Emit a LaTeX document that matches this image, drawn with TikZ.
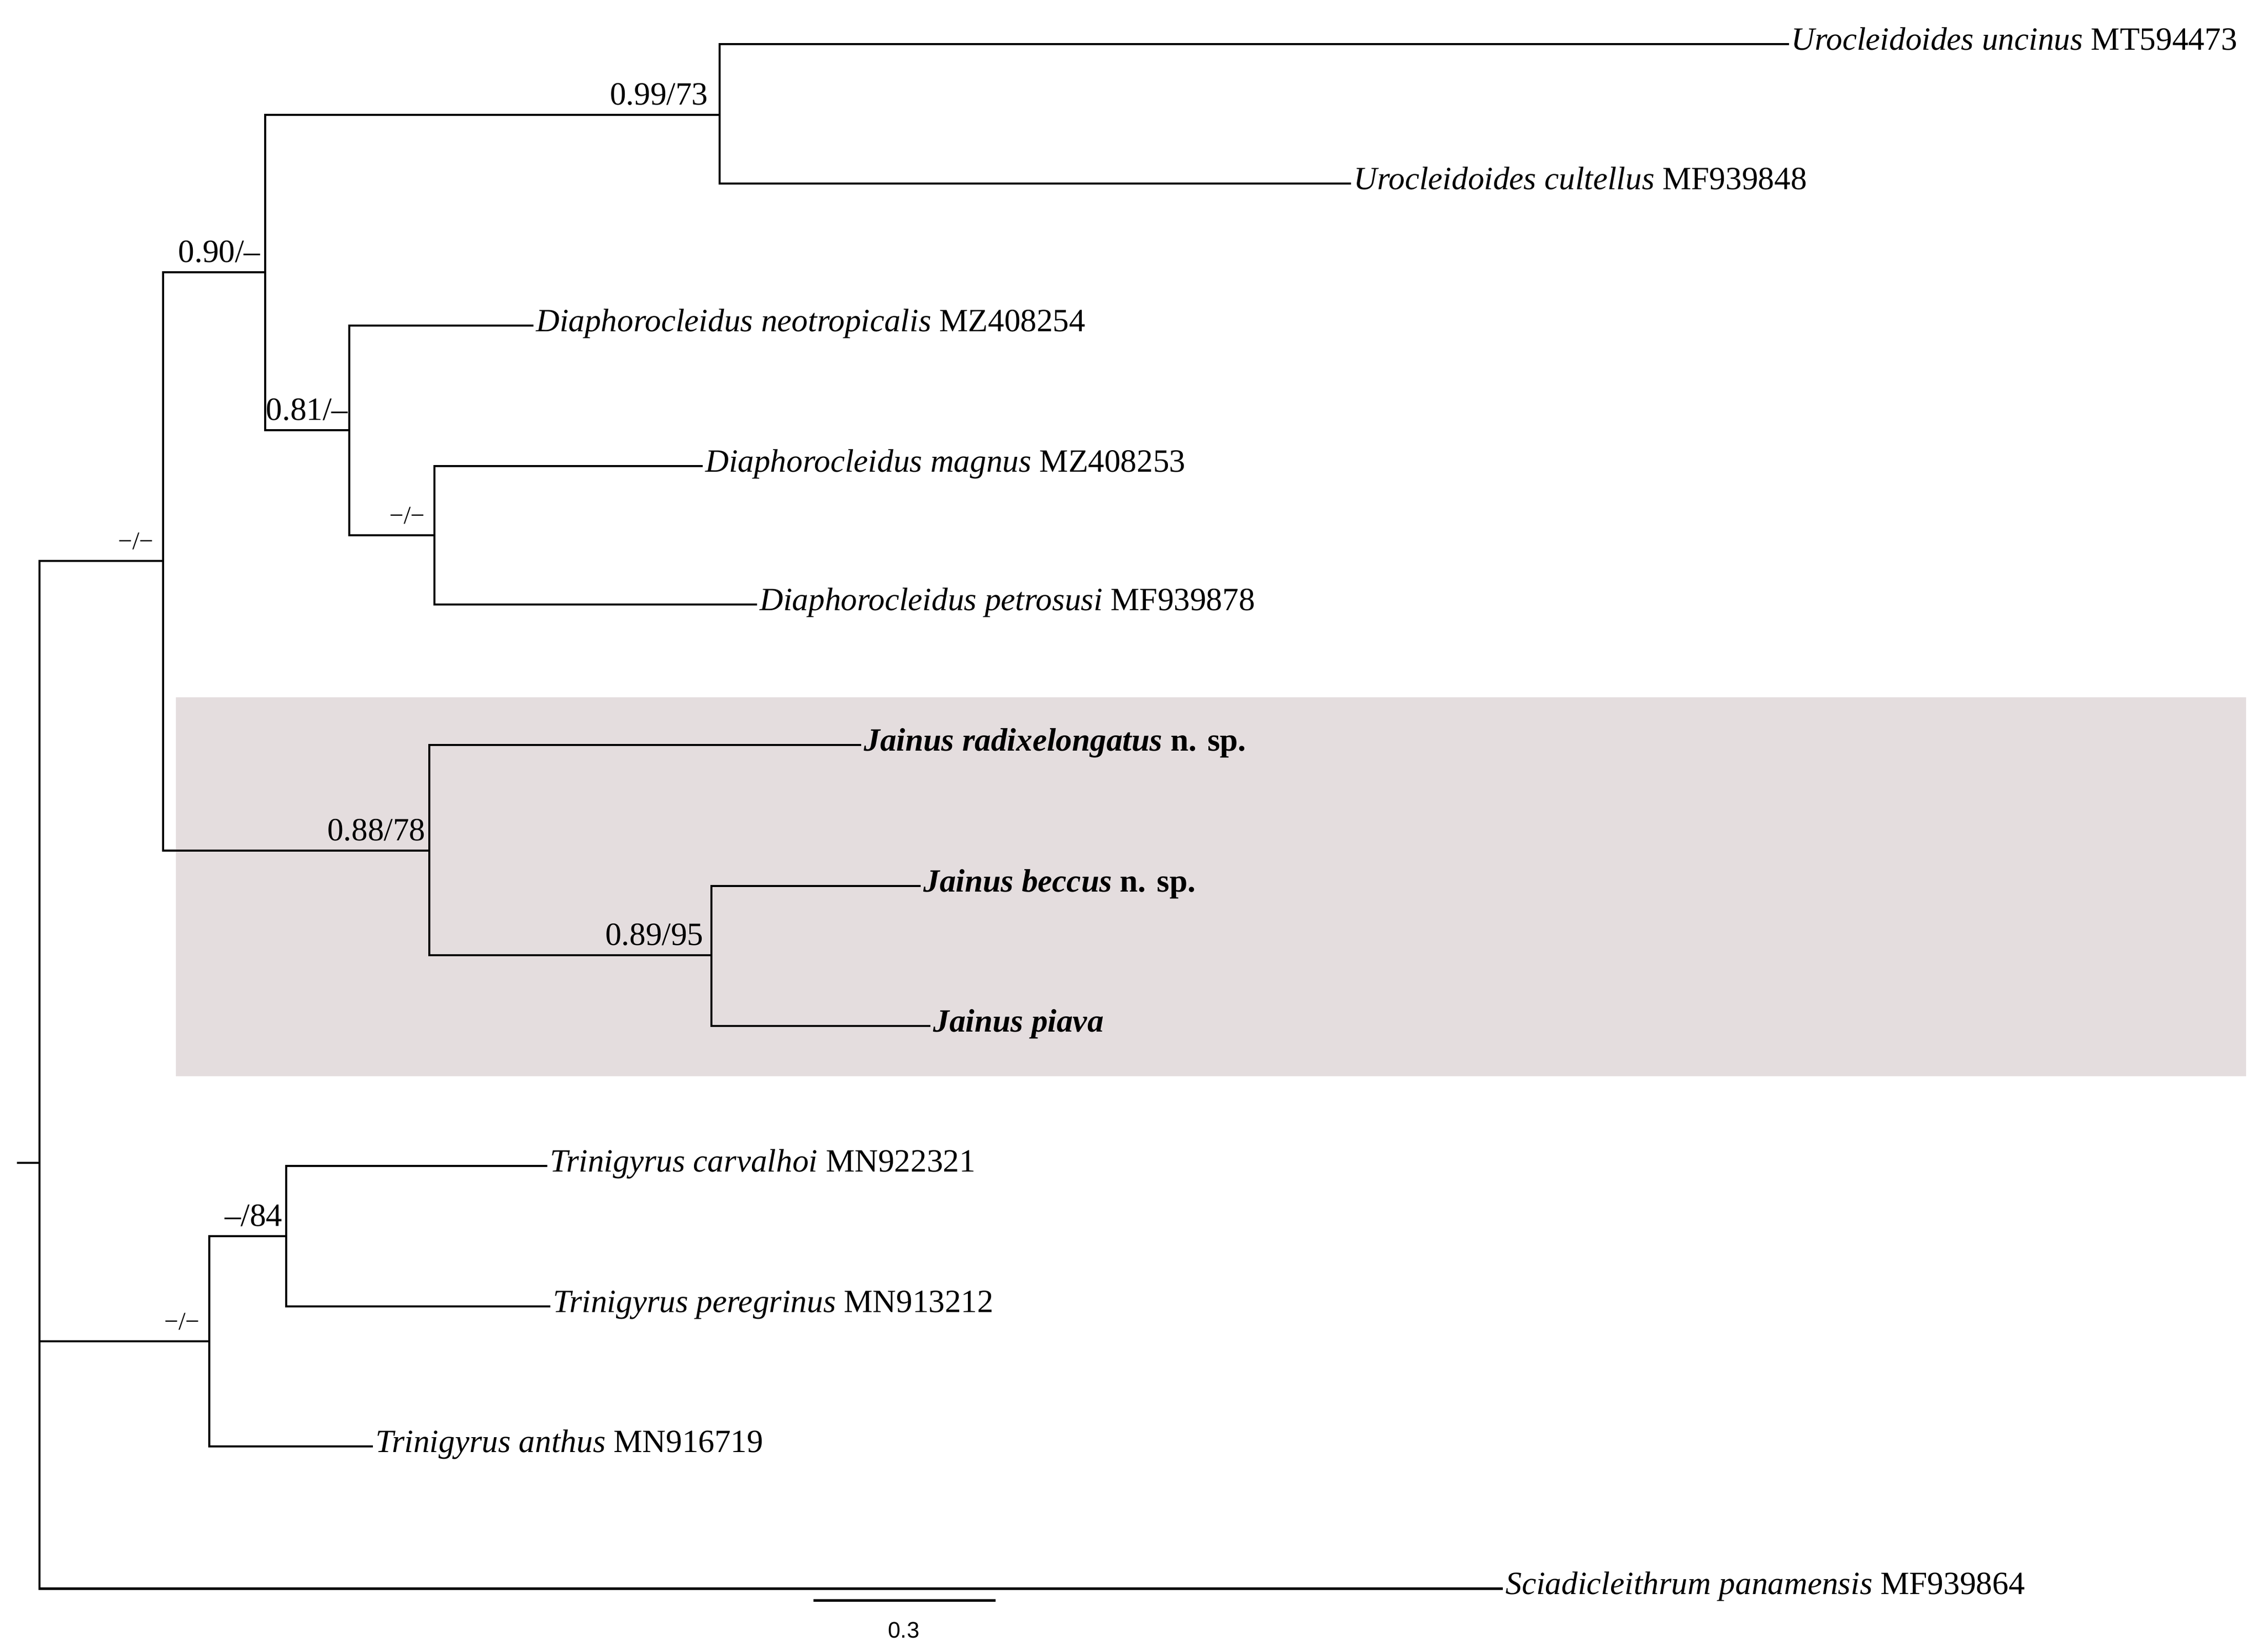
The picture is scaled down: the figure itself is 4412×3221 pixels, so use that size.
\documentclass[tikz,border=0pt]{standalone}
\usepackage{fontspec}
\setmainfont{Liberation Serif}
\newfontfamily\scalefont{Liberation Sans}
\usepackage{tikz}
\usetikzlibrary{positioning}
\usepackage{xcolor}
\definecolor{cladegray}{RGB}{228,221,222}

\begin{document}
\begin{tikzpicture}[x=0.1mm,y=-0.1mm,line width=1.4pt,line cap=rect,
  every node/.style={font=\fontsize{18pt}{21pt}\selectfont},
  taxon/.style={anchor=west,inner sep=0.5mm,text height=0.66em,text depth=0pt},
  supp/.style={anchor=south east,inner xsep=1mm,inner ysep=1.7mm,text depth=0pt},
  suppsmall/.style={supp,inner ysep=2mm,font=\fontsize{14pt}{16pt}\selectfont},
  scalelab/.style={font=\scalefont\fontsize{12.5pt}{15pt}\selectfont}]

  \useasboundingbox (0,0) rectangle (4412,3221);

  % highlighted clade
  \fill[cladegray] (343,1360) rectangle (4379,2099);

  % inner nodes
  \coordinate (root) at (77,2268);
  \coordinate (rootstub) at (35,2268);
  \coordinate (nA) at (318,1094);
  \coordinate (nB) at (517,531);
  \coordinate (nC) at (1403,224);
  \coordinate (nD) at (681,839);
  \coordinate (nE) at (847,1044);
  \coordinate (nF) at (837,1659);
  \coordinate (nG) at (1387,1863);
  \coordinate (nH) at (408,2616);
  \coordinate (nI) at (558,2411);

  % tips
  \node[taxon] (uncinus) at (3485,86) {\textit{Urocleidoides uncinus} MT594473};
  \node[taxon] (cultellus) at (2632,358) {\textit{Urocleidoides cultellus} MF939848};
  \node[taxon] (neotrop) at (1038,635) {\textit{Diaphorocleidus neotropicalis} MZ408254};
  \node[taxon] (magnus) at (1368,909) {\textit{Diaphorocleidus magnus} MZ408253};
  \node[taxon] (petrosusi) at (1474,1179) {\textit{Diaphorocleidus petrosusi} MF939878};
  \node[taxon] (radix) at (1677,1453) {\textbf{\textit{Jainus radixelongatus} n. sp.}};
  \node[taxon] (beccus) at (1793,1728) {\textbf{\textit{Jainus beccus} n. sp.}};
  \node[taxon] (piava) at (1812,2001) {\textbf{\textit{Jainus piava}}};
  \node[taxon] (carvalhoi) at (1065,2274) {\textit{Trinigyrus carvalhoi} MN922321};
  \node[taxon] (peregrinus) at (1071,2548) {\textit{Trinigyrus peregrinus} MN913212};
  \node[taxon] (anthus) at (725,2821) {\textit{Trinigyrus anthus} MN916719};
  \node[taxon] (sciad) at (2928,3098) {\textit{Sciadicleithrum panamensis} MF939864};

  % branches
  \draw (rootstub) -- (root);
  \draw (root) |- (nA);
  \draw (root) |- (nH);
  \draw (root) |- (sciad);
  \draw (nA) |- (nB);
  \draw (nA) |- (nF);
  \draw (nB) |- (nC);
  \draw (nB) |- (nD);
  \draw (nC) |- (uncinus);
  \draw (nC) |- (cultellus);
  \draw (nD) |- (neotrop);
  \draw (nD) |- (nE);
  \draw (nE) |- (magnus);
  \draw (nE) |- (petrosusi);
  \draw (nF) |- (radix);
  \draw (nF) |- (nG);
  \draw (nG) |- (beccus);
  \draw (nG) |- (piava);
  \draw (nH) |- (nI);
  \draw (nH) |- (anthus);
  \draw (nI) |- (carvalhoi);
  \draw (nI) |- (peregrinus);

  % support values
  \node[suppsmall] (sA) at ([xshift=-0.6mm]nA) {−/−};
  \node[supp] (sB) at ([xshift=0.3mm]nB) {0.90/–};
  \node[supp] (sC) at ([xshift=-1mm]nC) {0.99/73};
  \node[supp] (sD) at ([xshift=1mm]nD) {0.81/–};
  \node[suppsmall] (sE) at ([xshift=-0.6mm]nE) {−/−};
  \node[supp] (sF) at ([xshift=0.5mm]nF) {0.88/78};
  \node[supp] (sG) at ([xshift=-0.3mm]nG) {0.89/95};
  \node[suppsmall] (sH) at ([xshift=-0.6mm]nH) {−/−};
  \node[supp] (sI) at ([xshift=0.5mm]nI) {–/84};

  % scale bar
  \coordinate (sbl) at (1588,3121);
  \coordinate (sbr) at (1939,3121);
  \draw (sbl) -- (sbr);
  \node[scalelab] (sblab) at (1762,3179) {0.3};
\end{tikzpicture}
\end{document}
